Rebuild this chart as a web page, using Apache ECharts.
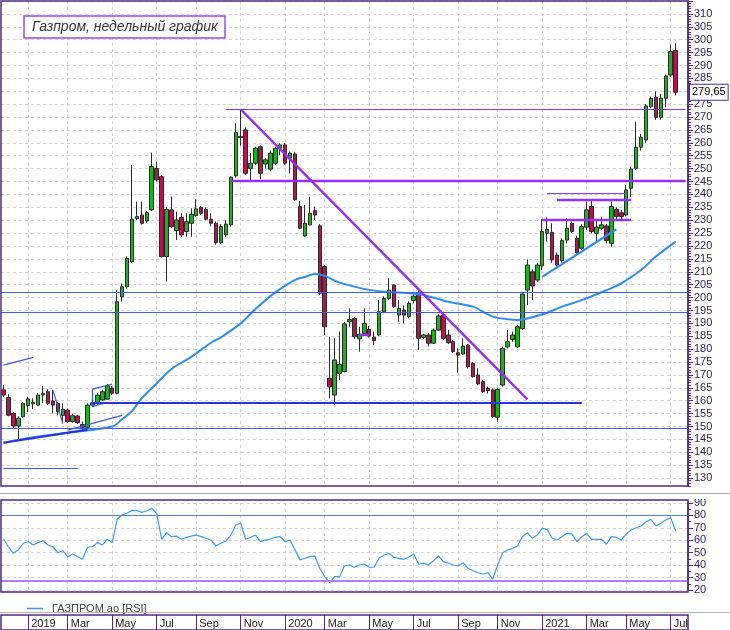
<!DOCTYPE html>
<html>
<head>
<meta charset="utf-8">
<script src="https://cdn.jsdelivr.net/npm/echarts@6/dist/echarts.min.js"></script>
<style>
  html, body { margin: 0; padding: 0; background: #fff; }
  #chart { width: 730px; height: 630px; }
</style>
</head>
<body>
<div id="chart"></div>
<script>
// недельные свечи: [open, close, low, high]
const candles = [
  [164.2,162.2,161.5,166.0],[161.3,154.4,154.0,162.5],[155.1,150.2,149.5,155.7],[150.2,153.2,145.0,154.0],
  [153.8,159.0,153.5,159.5],[158.1,160.7,155.7,161.6],[158.8,159.4,156.7,160.9],[158.3,162.2,158.0,163.0],
  [162.2,162.9,159.0,165.7],[163.5,159.0,158.3,164.4],[159.9,158.3,155.1,164.2],[159.0,155.7,154.3,159.5],
  [154.3,156.7,151.2,159.0],[156.4,151.9,151.5,157.0],[151.9,154.2,151.5,155.0],[154.1,151.5,151.0,154.5],
  [150.8,149.7,148.6,151.9],[149.7,158.3,149.0,159.0],[158.3,159.2,157.5,164.2],[159.0,162.2,158.5,163.0],
  [160.3,163.5,160.0,164.0],[160.6,165.8,160.5,166.5],[164.9,162.9,162.2,165.6],[162.9,198.4,162.5,202.9],
  [200.3,204.2,198.4,205.5],[204.2,215.2,203.5,216.0],[213.9,230.4,213.5,251.4],[230.6,231.4,230.0,237.2],
  [232.0,228.8,228.3,237.2],[229.7,232.9,229.0,233.5],[234.0,250.8,233.5,256.2],[250.1,245.6,245.0,252.7],
  [246.9,215.9,215.5,247.5],[215.9,234.2,206.2,235.0],[234.0,227.5,226.9,239.1],[226.0,230.1,222.3,233.3],
  [231.1,224.3,223.5,232.7],[225.6,229.4,223.6,232.7],[228.8,232.3,223.6,234.6],[231.8,234.4,231.4,238.1],
  [235.0,232.7,232.0,235.5],[234.2,230.4,230.0,235.0],[230.4,228.8,227.6,232.7],[228.8,221.3,220.5,229.5],
  [221.3,227.5,220.8,228.5],[224.3,228.5,223.5,230.0],[228.2,246.7,227.5,247.0],[247.2,264.0,246.5,267.6],
  [262.0,262.5,259.0,273.0],[265.0,248.2,247.6,266.0],[250.1,252.1,245.0,256.0],[252.1,257.9,251.5,258.5],
  [258.5,248.2,245.9,259.0],[251.8,253.4,250.0,254.0],[249.8,256.0,249.0,257.0],[252.1,257.9,251.5,258.5],
  [257.9,259.2,255.3,259.8],[259.2,252.1,251.5,260.0],[254.0,256.0,248.2,256.6],[255.7,237.9,237.5,256.5],
  [235.3,226.9,226.5,237.5],[223.9,228.8,223.6,235.9],[228.2,232.7,228.0,239.1],[233.7,232.0,230.1,235.3],
  [227.8,201.7,201.0,228.5],[212.0,188.7,185.5,212.5],[168.7,165.4,160.9,184.8],[162.2,175.8,158.3,184.2],
  [170.6,174.1,168.0,186.8],[171.3,189.8,171.0,190.5],[190.6,191.5,188.7,195.8],[191.9,184.8,184.0,192.5],
  [184.0,185.8,179.0,188.7],[186.1,190.0,185.9,195.8],[187.7,185.1,184.5,189.0],[184.6,183.3,181.6,186.8],
  [185.5,194.5,185.0,199.0],[194.5,199.7,194.0,200.5],[199.7,202.9,199.0,207.5],[204.9,196.5,196.0,205.0],
  [193.2,195.8,190.6,199.0],[195.2,193.2,190.0,196.9],[192.6,197.8,192.0,198.5],[198.8,200.6,197.8,201.4],
  [201.7,184.2,179.7,202.5],[184.6,185.5,184.0,186.0],[185.5,182.3,181.0,186.2],[182.3,187.4,182.0,188.0],
  [187.4,192.9,187.0,193.5],[193.2,184.2,183.5,194.5],[185.5,182.5,182.0,187.4],[182.9,179.0,178.5,183.5],
  [178.6,177.7,170.9,180.3],[178.1,181.2,177.7,184.2],[181.6,173.2,172.5,182.0],[174.5,169.3,169.0,175.0],
  [170.0,166.5,166.0,172.6],[167.4,163.5,163.0,168.0],[164.8,163.9,162.8,165.5],[164.2,153.8,153.3,164.8],
  [153.6,164.4,151.9,165.0],[166.1,180.3,165.5,181.0],[180.9,182.9,180.3,187.4],[183.8,185.5,182.9,186.8],
  [180.9,188.7,180.5,189.5],[188.0,201.4,187.5,202.0],[202.9,212.6,197.1,214.8],[210.0,204.5,199.0,211.0],
  [206.8,212.6,206.0,213.5],[212.3,225.6,210.7,230.4],[224.9,226.5,221.7,231.1],[225.3,214.6,213.5,228.8],
  [216.5,212.6,212.0,217.5],[214.3,222.1,213.5,223.0],[222.3,226.9,221.0,230.8],[228.8,225.6,225.0,229.5],
  [223.0,217.4,217.0,224.0],[219.1,227.5,218.5,228.5],[227.3,234.0,226.2,237.2],[235.3,225.6,224.9,237.9],
  [224.9,227.3,222.0,230.0],[226.9,228.2,226.2,231.4],[227.8,222.1,221.0,228.5],[221.0,235.3,219.7,237.2],
  [234.2,231.4,230.5,235.0],[232.9,231.4,229.7,234.0],[232.0,241.7,231.5,243.6],[242.4,249.8,239.1,250.8],
  [250.1,258.3,249.5,268.2],[258.3,262.2,257.0,263.5],[261.1,274.3,260.0,275.0],[274.0,277.3,273.4,278.0],
  [277.7,269.9,268.9,279.9],[269.9,277.3,268.9,279.0],[277.3,285.9,273.8,286.5],[286.3,295.4,285.5,298.0],
  [295.8,279.65,278.4,298.6]
];

// скользящая средняя: [номер недели, значение]
const maPoints = [
  [0,143.7],[6,145.8],[13,147.6],[22,150.0],[24,152.8],[26,156.0],[28,161.0],[31,166.7],
  [34,172.3],[38,177.0],[42,182.5],[44,184.6],[48,190.0],[51,195.6],[55,202.0],[59,206.9],
  [61,208.0],[63,209.1],[65,208.4],[68,205.8],[75,202.7],[84,201.3],[90,198.4],[95,196.5],
  [97,194.5],[99,192.6],[102,191.6],[104,191.3],[107,192.4],[110,194.1],[113,196.5],[117,199.0],
  [122,202.9],[125,205.5],[129,210.7],[132,215.9],[136,221.7]
];

const rsi = [
  61,54.8,49.5,52.2,57.6,58.9,56.2,58.1,59.7,56.2,54.8,50,51.6,46.8,49,46.8,44.7,54.4,54.8,58.1,
  56.2,60.8,58.1,76.9,80.3,82,84,84,82.5,83.8,85.7,81.7,60.8,66.1,62.9,63.4,60.8,62.4,63.4,64.2,
  62.9,61.6,60.2,55.4,57.6,59.4,64.2,72.3,73.7,60.8,62.4,64.2,58.9,60.2,61,62.4,62.9,58.9,60.2,52.2,
  44.1,45.5,46.8,47.4,37.5,30.7,25.9,30.7,30.7,39.5,40.1,38.3,40.1,40.9,38.3,38.3,45.5,48.2,49.5,46.3,
  45.5,44.7,46.3,49,40.9,41.5,40.1,43.6,47.4,42.8,41.5,40.1,39.3,42,37.5,35.5,33.9,32.9,33.9,28.8,
  40.1,50,52.2,53.5,55.4,62.9,66.1,61.6,64.2,69.6,68.8,61.6,60.2,62.9,65.6,65.1,58.9,62.9,65.6,60.8,
  60.8,60.8,56.8,62.9,62.4,60.2,65.1,68.3,70.1,71.5,74.9,76.9,71.5,73.7,76.3,78.2,67.5
];

// линии разметки: [неделя0, цена0, неделя1, цена1]
const purpleThick = [[46,245.2,138,245.2],[48,273,106,160.5],[109,230,127,230],[112,238.1,127,238.1],[72,185.5,74,185.5]];
const purpleThin = [[45,273,138,273],[110,240.4,126,240.4]];
const blueThin = [[0,133.8,15,133.8],[0,173.8,6,176.8],[18,164.5,22,166.5],[18,157.7,21,159.3],
  [18,157.7,18,164.5],[10,164.2,12,151.2],[13,148.6,24,154.3]];
const blueThick = [[18,159.3,117,159.3],[0,143.7,17,148.8]];
const supportLine = [[109,208,124,226.5]];
const levels = [202.2, 194.5, 149.5];
const rsiLevels = [80, 27.5];
const lastPrice = 279.65;

const firstWeek = Date.UTC(2018, 11, 2);
const weekCount = 139;
const monthNames = ['Jan','Feb','Mar','Apr','May','Jun','Jul','Aug','Sep','Oct','Nov','Dec'];

const weeks = [];
for (let i = 0; i < weekCount; i++) {
  weeks.push(new Date(firstWeek + i * 7 * 864e5).toISOString().slice(0, 10));
}
const monthMarks = new Set();
weeks.forEach((w, i) => {
  const m = +w.slice(5, 7);
  if (i > 0 && m !== +weeks[i - 1].slice(5, 7) && m % 2 === 1) monthMarks.add(i);
});
const isMark = idx => monthMarks.has(idx);

const frame = '#4f2a86';
const gridColor = '#d2d2d2';

const segs = (list, style) => list.map(s => [
  { coord: [s[0], s[1]], lineStyle: style },
  { coord: [s[2], s[3]] }
]);

const chart = echarts.init(document.getElementById('chart'));

const option = {
  animation: false,
  backgroundColor: '#fff',
  title: {
    text: 'Газпром, недельный график',
    left: 24, top: 16,
    padding: [4, 8],
    borderColor: '#a146f2', borderWidth: 1.5,
    backgroundColor: '#fff',
    textStyle: { fontFamily: 'Liberation Sans', fontStyle: 'italic', fontWeight: 'normal', fontSize: 14, color: '#333' }
  },
  legend: {
    left: 22, top: 598,
    data: [{ name: 'ГАЗПРОМ ао [RSI]', icon: 'rect' }],
    itemWidth: 16, itemHeight: 1.5,
    textStyle: { fontFamily: 'Liberation Sans', fontSize: 11, color: '#444', padding: [0, 0, 0, 4] }
  },
  grid: [
    { left: 1, right: 42, top: 1, height: 490, outerBoundsMode: 'none' },
    { left: 1, right: 42, top: 503, height: 87, outerBoundsMode: 'none' },
    { left: 1, right: 42, top: 615, height: 15, outerBoundsMode: 'none' }
  ],
  xAxis: [
    {
      type: 'category', gridIndex: 0, data: weeks, boundaryGap: true,
      axisLine: { show: false }, axisTick: { show: false }, axisLabel: { show: false },
      splitLine: { show: true, interval: isMark, alignWithLabel: true, lineStyle: { color: gridColor, type: [3, 3] } }
    },
    {
      type: 'category', gridIndex: 1, data: weeks, boundaryGap: true,
      axisLine: { show: false }, axisTick: { show: false }, axisLabel: { show: false },
      splitLine: { show: true, interval: isMark, alignWithLabel: true, lineStyle: { color: gridColor, type: [3, 3] } }
    },
    {
      type: 'category', gridIndex: 2, data: weeks, boundaryGap: true, position: 'top',
      axisLine: { show: true, lineStyle: { color: frame, width: 1.5 } },
      axisTick: { show: false },
      splitLine: { show: true, interval: isMark, alignWithLabel: true, lineStyle: { color: frame, width: 1 } },
      axisLabel: {
        show: true, inside: true, interval: isMark, margin: 3, align: 'left',
        padding: [0, 0, 0, 3],
        fontFamily: 'Liberation Sans', fontSize: 11, color: '#222',
        formatter: v => {
          const m = +v.slice(5, 7);
          return m === 1 ? v.slice(0, 4) : monthNames[m - 1];
        }
      }
    }
  ],
  yAxis: [
    {
      type: 'value', gridIndex: 0, position: 'right', min: 125, max: 315, interval: 5,
      axisLine: { show: true, lineStyle: { color: frame, width: 1.5 } },
      axisTick: { show: true, length: 5, lineStyle: { color: frame } },
      minorTick: { show: true, splitNumber: 5, length: 3, lineStyle: { color: frame } },
      splitLine: { show: true, lineStyle: { color: gridColor, type: [3, 3] } },
      axisLabel: {
        margin: 6, fontFamily: 'Liberation Sans', fontSize: 11, color: '#2e1a5c',
        formatter: v => (v >= 130 && v <= 310 ? String(v) : '')
      }
    },
    {
      type: 'value', gridIndex: 1, position: 'right', min: 20, max: 90, interval: 10,
      axisLine: { show: true, lineStyle: { color: frame, width: 1.5 } },
      axisTick: { show: true, length: 5, lineStyle: { color: frame } },
      minorTick: { show: true, splitNumber: 2, length: 3, lineStyle: { color: frame } },
      splitLine: { show: true, lineStyle: { color: gridColor, type: [3, 3] } },
      axisLabel: { margin: 6, fontFamily: 'Liberation Sans', fontSize: 11, color: '#2e1a5c' }
    },
    { type: 'value', gridIndex: 2, show: false }
  ],
  series: [
    {
      type: 'candlestick', xAxisIndex: 0, yAxisIndex: 0,
      data: candles, barWidth: 4,
      itemStyle: {
        color: '#18b418', color0: '#b3154f',
        borderColor: '#2a2a2a', borderColor0: '#2a2a2a', borderWidth: 1
      },
      markLine: {
        silent: true, symbol: ['none', 'none'],
        lineStyle: { color: 'rgba(0,0,0,0)', width: 0, type: 'solid' },
        label: {
          show: true, position: 'end', distance: 2,
          formatter: String(lastPrice).replace('.', ','),
          fontFamily: 'Liberation Sans', fontSize: 11, color: '#000',
          backgroundColor: '#fff', borderColor: frame, borderWidth: 1, padding: [2, 2]
        },
        emphasis: { disabled: true },
        data: [{ yAxis: lastPrice }]
      }
    },
    {
      type: 'line', name: 'MA', xAxisIndex: 0, yAxisIndex: 0,
      data: maPoints, smooth: 0.35, symbol: 'none', z: 3,
      lineStyle: { color: '#2d8ef5', width: 2 },
      markLine: {
        silent: true, symbol: ['none', 'none'], label: { show: false },
        data: [
          ...levels.map(v => ({ yAxis: v, lineStyle: { color: '#3d5cf0', width: 1.2, type: 'solid' } })),
          ...segs(blueThin, { color: '#3f55ea', width: 1.2, type: 'solid' }),
          ...segs(blueThick, { color: '#2338dc', width: 2.2, type: 'solid' }),
          ...segs(supportLine, { color: '#2d8ef5', width: 2.2, type: 'solid' }),
          ...segs(purpleThin, { color: '#8a3ad8', width: 1.2, type: 'solid' }),
          ...segs(purpleThick, { color: '#9630f0', width: 2.4, type: 'solid' })
        ]
      }
    },
    {
      type: 'line', name: 'ГАЗПРОМ ао [RSI]', xAxisIndex: 1, yAxisIndex: 1,
      data: rsi, symbol: 'none',
      itemStyle: { color: '#3a9bff' },
      lineStyle: { color: '#3a9bff', width: 1.2 },
      markLine: {
        silent: true, symbol: ['none', 'none'], label: { show: false },
        data: [
          { yAxis: rsiLevels[0], lineStyle: { color: '#4a80f0', width: 1.2, type: 'solid' } },
          { yAxis: rsiLevels[1], lineStyle: { color: '#b57cf3', width: 2.2, type: 'solid' } }
        ]
      }
    }
  ],
  graphic: [
    { type: 'rect', z: 40, silent: true, shape: { x: 0, y: 487, width: 730, height: 12 }, style: { fill: '#fff' } },
    { type: 'line', z: 45, silent: true, shape: { x1: 0, y1: 493.5, x2: 730, y2: 493.5 }, style: { stroke: '#a9a9a9', lineWidth: 1 } },
    { type: 'line', z: 45, silent: true, shape: { x1: 0, y1: 612.5, x2: 730, y2: 612.5 }, style: { stroke: '#b4b4b4', lineWidth: 1 } },
    { type: 'rect', z: 50, silent: true, shape: { x: 1, y: 1, width: 687, height: 485 }, style: { fill: 'none', stroke: frame, lineWidth: 1.5 } },
    { type: 'rect', z: 50, silent: true, shape: { x: 1, y: 500, width: 687, height: 92 }, style: { fill: 'none', stroke: frame, lineWidth: 1.5 } },
    { type: 'rect', z: 50, silent: true, shape: { x: 1, y: 615, width: 687, height: 16 }, style: { fill: 'none', stroke: frame, lineWidth: 1.5 } }
  ]
};

chart.setOption(option);
</script>
</body>
</html>
